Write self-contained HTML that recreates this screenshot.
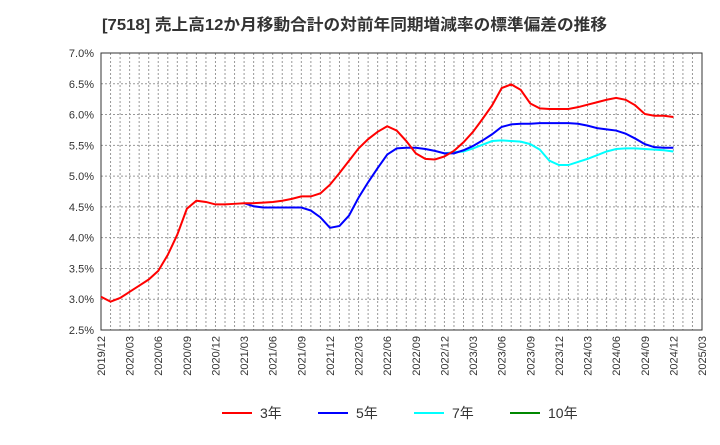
<!DOCTYPE html>
<html><head><meta charset="utf-8"><style>
body{margin:0;background:#fff;font-family:"Liberation Sans","Noto Sans CJK JP",sans-serif}
</style></head><body>
<svg id="c" width="720" height="440" xmlns="http://www.w3.org/2000/svg" font-family="Liberation Sans, Noto Sans CJK JP, sans-serif">
<text x="102" y="30" font-size="16" font-weight="bold" fill="#333" textLength="505" lengthAdjust="spacingAndGlyphs">[7518]  売上高12か月移動合計の対前年同期増減率の標準偏差の推移</text>
<g id="grid"></g><g id="axes"></g><g id="series"></g>
<g font-size="14" fill="#333">
<g><line x1="222" y1="413" x2="252" y2="413" stroke="#f00" stroke-width="2"/><text x="260" y="418">3年</text></g>
<g><line x1="318" y1="413" x2="348" y2="413" stroke="#00f" stroke-width="2"/><text x="356" y="418">5年</text></g>
<g><line x1="414" y1="413" x2="444" y2="413" stroke="#0ff" stroke-width="2"/><text x="452" y="418">7年</text></g>
<g><line x1="510" y1="413" x2="540" y2="413" stroke="#080" stroke-width="2"/><text x="548" y="418">10年</text></g>
</g>
</svg>
<script>
const xTickLabels=["2019/12","2020/03","2020/06","2020/09","2020/12","2021/03","2021/06","2021/09","2021/12","2022/03","2022/06","2022/09","2022/12","2023/03","2023/06","2023/09","2023/12","2024/03","2024/06","2024/09","2024/12","2025/03"];
const yTicks=[2.5,3.0,3.5,4.0,4.5,5.0,5.5,6.0,6.5,7.0];
const s3=[3.04,2.96,3.02,3.12,3.22,3.32,3.46,3.72,4.05,4.47,4.60,4.58,4.54,4.54,4.55,4.56,4.56,4.57,4.58,4.60,4.63,4.67,4.67,4.72,4.86,5.05,5.25,5.45,5.60,5.72,5.81,5.74,5.57,5.37,5.28,5.27,5.32,5.41,5.55,5.72,5.93,6.15,6.43,6.49,6.40,6.18,6.10,6.09,6.09,6.09,6.12,6.16,6.20,6.24,6.27,6.24,6.15,6.01,5.98,5.98,5.96];
const s5Start=15;
const s5=[4.56,4.51,4.49,4.49,4.49,4.49,4.49,4.44,4.33,4.16,4.19,4.36,4.65,4.90,5.13,5.35,5.45,5.46,5.46,5.44,5.41,5.37,5.37,5.42,5.49,5.58,5.68,5.80,5.84,5.85,5.85,5.86,5.86,5.86,5.86,5.85,5.82,5.78,5.76,5.74,5.69,5.61,5.52,5.47,5.46,5.46];
const s7Start=36;
const s7=[5.37,5.39,5.40,5.45,5.51,5.57,5.58,5.57,5.56,5.52,5.43,5.25,5.18,5.18,5.23,5.28,5.34,5.40,5.44,5.45,5.45,5.44,5.43,5.42,5.40];
const L=101,R=702,T=53,B=330,NM=63;
const X=i=>L+(R-L)*i/NM, Y=v=>B-(v-2.5)/4.5*(B-T);
const ns="http://www.w3.org/2000/svg";
function mk(p,t,a){const e=document.createElementNS(ns,t);for(const k in a)e.setAttribute(k,a[k]);p.appendChild(e);return e;}
const g=document.getElementById('grid'),ax=document.getElementById('axes'),se=document.getElementById('series');
for(let i=1;i<NM;i++){const l=mk(g,'line',{x1:X(i),x2:X(i),y1:T,y2:B,stroke:'#999','stroke-dasharray':'2,2','stroke-width':1});

}
yTicks.forEach(v=>{const l=mk(g,'line',{x1:L,x2:R,y1:Y(v),y2:Y(v),stroke:'#999','stroke-dasharray':'2,2','stroke-width':1});


const t=mk(ax,'text',{x:L-7,y:Y(v)+4,'text-anchor':'end','font-size':11,fill:'#333'});t.textContent=v.toFixed(1)+'%';

});
xTickLabels.forEach((s,i)=>{const x=X(i*3);const t=mk(ax,'text',{x:x+4,y:B+6,'text-anchor':'end','font-size':11,fill:'#333',transform:`rotate(-90 ${x+4} ${B+6})`});t.textContent=s;

});
const fr=mk(ax,'rect',{x:L,y:T,width:R-L,height:B-T,fill:'none',stroke:'#333','stroke-width':1});


function line(arr,start,col,name){const p=mk(se,'polyline',{points:arr.map((v,i)=>X(start+i)+','+Y(v)).join(' '),fill:'none',stroke:col,'stroke-width':2});

}
line(s7,s7Start,'#0ff','series-7y');
line(s5,s5Start,'#00f','series-5y');
line(s3,0,'#f00','series-3y');
</script>
</body></html>
